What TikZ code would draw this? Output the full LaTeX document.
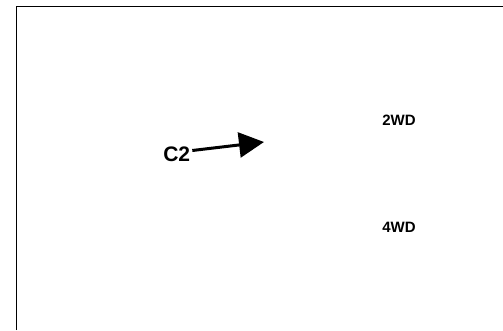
\documentclass[tikz,border=0pt]{standalone}
\usepackage{fontspec}
\setmainfont{Liberation Sans}
\usetikzlibrary{arrows.meta}

\begin{document}
\begin{tikzpicture}[x=1pt,y=1pt,
  lbl/.style={font=\bfseries\fontsize{15}{15}\selectfont,inner sep=2pt},
  big/.style={font=\bfseries\fontsize{21}{21}\selectfont,inner sep=2pt}]
\useasboundingbox (0,0) rectangle (503,330);
\draw[line width=1pt] (16,0) -- (16,323) -- (503,323);
\node[big] (c2) at (176.7, 175.5) {C2};
\node[lbl] (2wd) at (399, 209.5) {2WD};
\node[lbl] (4wd) at (399, 102.5) {4WD};
\coordinate (tip) at (264, 188);
\draw[-{Triangle[length=25pt,width=25pt]},line width=3pt] ([yshift=4pt]c2.east) -- (tip);
\end{tikzpicture}
\end{document}
